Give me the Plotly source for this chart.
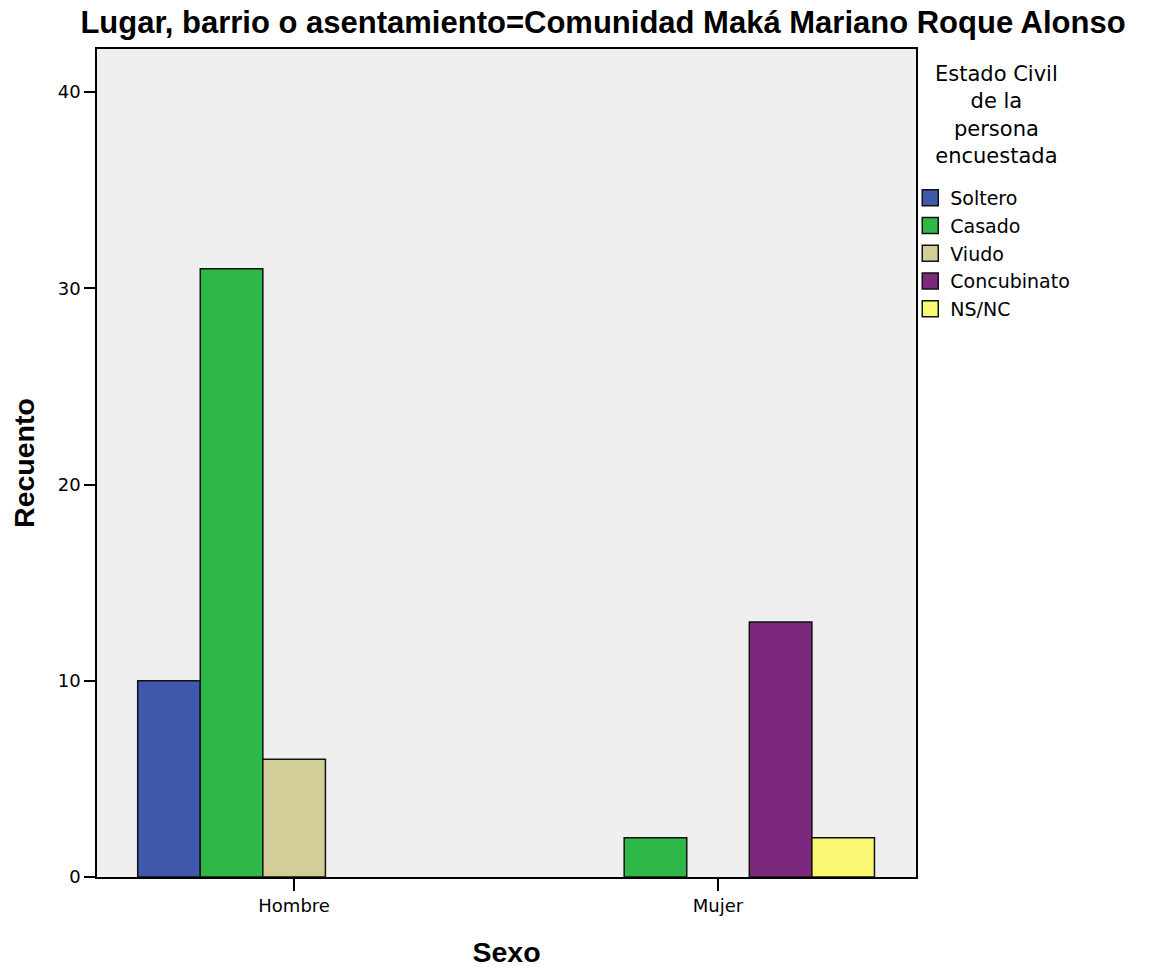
import plotly.graph_objects as go

sexo = ["Hombre", "Mujer"]
estados = ["Soltero", "Casado", "Viudo", "Concubinato", "NS/NC"]
soltero = [10, None]
casado = [31, 2]
viudo = [6, None]
concubinato = [None, 13]
nsnc = [None, 2]
y_ticks = [0, 10, 20, 30, 40]

_COLORES = ["#3e58ac", "#2eb848", "#d3ce97", "#7b287d", "#fbf873"]
_TITULO = dict(family="Liberation Sans, Arial, sans-serif", color="#000000")
_TEXTO = dict(family="DejaVu Sans, Verdana, sans-serif", color="#000000")

fig = go.Figure()
series = [soltero, casado, viudo, concubinato, nsnc]
for nombre, valores, color in zip(estados, series, _COLORES):
    fig.add_trace(go.Bar(
        x=sexo, y=valores, name=nombre, showlegend=False,
        marker=dict(color=color, line=dict(color="#111111", width=1.5)),
    ))
# entradas de leyenda con cuadros más grandes (estilo SPSS)
for nombre, color in zip(estados, _COLORES):
    fig.add_trace(go.Scatter(
        x=[None], y=[None], mode="markers", name=nombre,
        marker=dict(symbol="square", size=16, color=color,
                    line=dict(color="#111111", width=1.5)),
    ))

# título de la leyenda centrado, como en SPSS
fig.add_annotation(
    text="Estado Civil<br>de la<br>persona<br>encuestada",
    xref="paper", yref="paper", x=1.0977, y=0.9197,
    xanchor="center", yanchor="middle", align="center",
    showarrow=False, font=dict(size=21, **_TEXTO),
)

fig.update_layout(
    width=1145, height=962,
    barmode="group", bargap=0.262, bargroupgap=0,
    paper_bgcolor="#ffffff", plot_bgcolor="#efefef",
    font=_TEXTO,
    margin=dict(l=89, r=237, t=41, b=93),
    title=dict(
        text="<b>Lugar, barrio o asentamiento=Comunidad Maká Mariano Roque Alonso</b>",
        x=0.5197, xanchor="center", y=0.9854, yanchor="middle",
        font=dict(size=31, **_TITULO),
    ),
    xaxis=dict(
        range=[-0.465, 1.467], showgrid=False, automargin=False,
        showline=True, linecolor="#000000", linewidth=1.5, mirror=True,
        ticks="outside", ticklen=12, tickwidth=1.5, tickcolor="#000000",
        tickfont=dict(size=18),
        title=dict(text="<b>Sexo</b>", font=dict(size=28.5, **_TITULO), standoff=27),
    ),
    yaxis=dict(
        range=[0, 42.2], showgrid=False, zeroline=False, automargin=False,
        tickvals=y_ticks,
        showline=True, linecolor="#000000", linewidth=1.5, mirror=True,
        ticks="outside", ticklen=11, tickwidth=1.5, tickcolor="#000000",
        tickfont=dict(size=18),
        title=dict(text="<b>Recuento</b>", font=dict(size=28.5, **_TITULO), standoff=24),
    ),
    legend=dict(
        x=0.993, xanchor="left", y=0.843, yanchor="top",
        font=dict(size=19), tracegroupgap=0, itemwidth=30,
        bgcolor="rgba(0,0,0,0)",
    ),
)

fig.write_html("out.html")
